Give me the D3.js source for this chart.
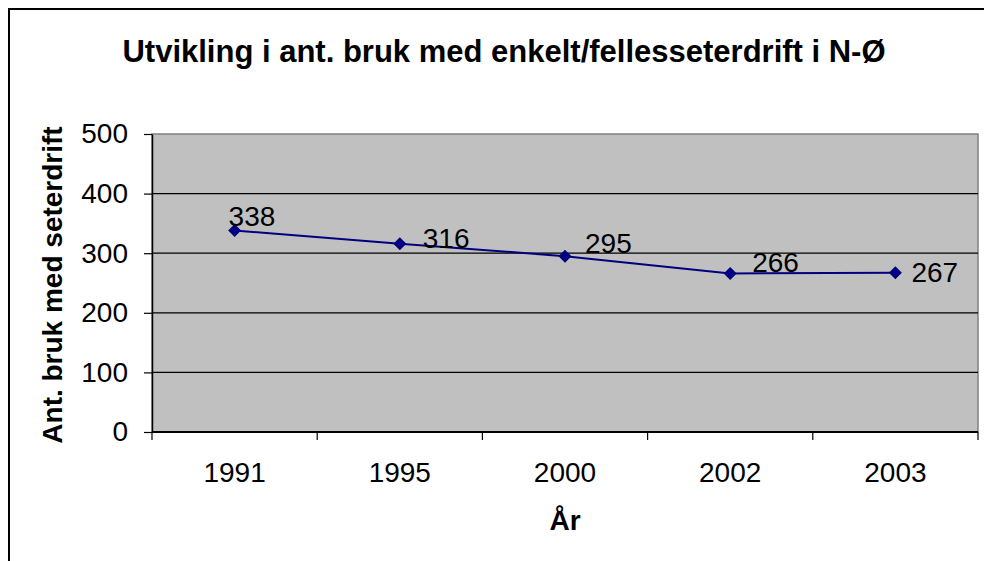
<!DOCTYPE html>
<html>
<head>
<meta charset="utf-8">
<script src="https://cdn.jsdelivr.net/npm/d3@7"></script>
<style>
  html, body { margin: 0; padding: 0; background: #fff; }
  svg { display: block; }
  text { font-family: "Liberation Sans", Arial, sans-serif; }
</style>
</head>
<body>
<svg id="chart" width="984" height="561"></svg>
<script>
// ---- data ----
const years = ["1991", "1995", "2000", "2002", "2003"];
const values = [338, 316, 295, 266, 267];
const yTicks = [0, 100, 200, 300, 400, 500];
const title = "Utvikling i ant. bruk med enkelt/fellesseterdrift i N-Ø";
const xTitle = "År";
const yTitle = "Ant. bruk med seterdrift";

// label nudges (styling only): offset of label start/baseline from the point
const labelNudge = [[-6, -5], [23, 4], [20, -3], [22, -1], [16, 9]];

const svg = d3.select("#chart");
const plot = { left: 152, right: 978, top: 134, bottom: 432 };
const numFont = 28;

// chart frame
svg.append("rect").attr("x", 9).attr("y", 9).attr("width", 1000).attr("height", 600)
  .attr("fill", "#fff").attr("stroke", "#000").attr("stroke-width", 2);

const x = d3.scaleBand().domain(years).range([plot.left, plot.right]).padding(0);
const y = d3.scaleLinear().domain([0, 500]).range([plot.bottom, plot.top]);

// plot area
svg.append("rect").attr("x", plot.left).attr("y", plot.top)
  .attr("width", plot.right - plot.left).attr("height", plot.bottom - plot.top)
  .attr("fill", "#C0C0C0").attr("stroke", "#808080").attr("stroke-width", 1.5);

// gridlines
svg.append("g").selectAll("line").data(yTicks.filter(d => d > 0 && d < 500)).join("line")
  .attr("x1", plot.left).attr("x2", plot.right)
  .attr("y1", d => y(d)).attr("y2", d => y(d))
  .attr("stroke", "#000").attr("stroke-width", 1.2);

// y axis
const yAxis = svg.append("g").attr("transform", `translate(${plot.left},0)`)
  .call(d3.axisLeft(y).tickValues(yTicks).tickSize(8).tickPadding(16).tickSizeOuter(0));
yAxis.select(".domain").attr("stroke", "#000").attr("stroke-width", 1.5);
yAxis.selectAll(".tick line").attr("stroke", "#000").attr("stroke-width", 1.2);
yAxis.selectAll(".tick text").attr("font-size", numFont).attr("fill", "#000")
  .attr("font-family", "Liberation Sans, Arial, sans-serif");

// x axis with ticks at category boundaries
const xAxisG = svg.append("g").attr("transform", `translate(0,${plot.bottom})`);
xAxisG.append("line").attr("x1", plot.left).attr("x2", plot.right).attr("y1", 0).attr("y2", 0)
  .attr("stroke", "#000").attr("stroke-width", 2);
const boundaries = years.map(d => x(d)).concat([x(years[years.length - 1]) + x.bandwidth()]);
xAxisG.selectAll("line.tk").data(boundaries).join("line").attr("class", "tk")
  .attr("x1", d => d).attr("x2", d => d).attr("y1", 0).attr("y2", 8)
  .attr("stroke", "#000").attr("stroke-width", 1.2);
xAxisG.selectAll("text").data(years).join("text")
  .attr("x", d => x(d) + x.bandwidth() / 2).attr("y", 50)
  .attr("text-anchor", "middle").attr("font-size", numFont).attr("fill", "#000").text(d => d);

// line
const cx = (d, i) => x(years[i]) + x.bandwidth() / 2;
const line = d3.line().x((d, i) => cx(d, i)).y(d => y(d));
svg.append("path").datum(values).attr("d", line)
  .attr("fill", "none").attr("stroke", "#000080").attr("stroke-width", 2);

// markers
svg.append("g").selectAll("path").data(values).join("path")
  .attr("transform", (d, i) => `translate(${cx(d, i)},${y(d)})`)
  .attr("d", "M0,-6.5L6.5,0L0,6.5L-6.5,0Z")
  .attr("fill", "#000080");

// data labels
svg.append("g").selectAll("text").data(values).join("text")
  .attr("x", (d, i) => cx(d, i) + labelNudge[i][0])
  .attr("y", (d, i) => y(d) + labelNudge[i][1])
  .attr("font-size", numFont).attr("fill", "#000").text(d => d);

// titles
svg.append("text").attr("x", 504).attr("y", 62).attr("text-anchor", "middle")
  .attr("font-size", 31).attr("font-weight", "bold").attr("fill", "#000").text(title);
svg.append("text").attr("x", (plot.left + plot.right) / 2).attr("y", 530).attr("text-anchor", "middle")
  .attr("font-size", 28).attr("font-weight", "bold").attr("fill", "#000").text(xTitle);
svg.append("text").attr("transform", "translate(62,285) rotate(-90)").attr("text-anchor", "middle")
  .attr("font-size", 28).attr("font-weight", "bold").attr("fill", "#000").text(yTitle);
</script>
</body>
</html>
